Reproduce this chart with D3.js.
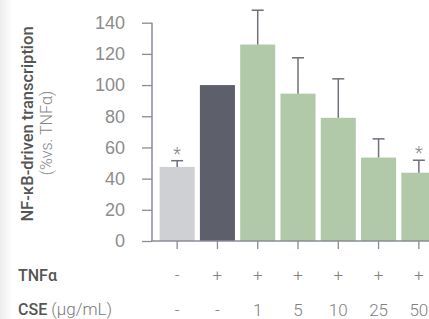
<!DOCTYPE html>
<html>
<head>
<meta charset="utf-8">
<script src="https://cdn.jsdelivr.net/npm/d3@7"></script>
<style>
  body { margin: 0; background: #fff; }
  svg { display: block; font-family: Roboto, sans-serif; }
</style>
</head>
<body>
<svg></svg>
<script>
var width = 429,
    height = 319;

// data
var groups = ["ctrl", "tnf", "c1", "c5", "c10", "c25", "c50"];
var means = [47.5, 100, 126, 94.5, 79, 53.5, 43.8];
var errors = [4, 0, 22, 23, 25, 12, 8];
var stars = [true, false, false, false, false, false, true];
var tnfRow = ["-", "+", "+", "+", "+", "+", "+"];
var cseRow = ["-", "-", "1", "5", "10", "25", "50"];
var yTicks = [0, 20, 40, 60, 80, 100, 120, 140];
var colors = ["#cfd0d4", "#5d5f6b", "#b1c8a9", "#b1c8a9", "#b1c8a9", "#b1c8a9", "#b1c8a9"];

var svg = d3.select("svg")
    .attr("width", width)
    .attr("height", height);

// faint shade on the left edge
var grad = svg.append("defs").append("linearGradient")
    .attr("id", "edge");
grad.append("stop").attr("offset", "0%").attr("stop-color", "#ececec");
grad.append("stop").attr("offset", "100%").attr("stop-color", "#ffffff");
svg.append("rect")
    .attr("width", 12).attr("height", height)
    .attr("fill", "url(#edge)");

var x = d3.scaleBand()
    .domain(groups)
    .range([157, 439])
    .paddingInner(0.13)
    .paddingOuter(0.065);

var y = d3.scaleLinear()
    .domain([0, 140])
    .range([241, 22.7]);

var axisColor = "#8a8c96";

// y axis
var yAxis = svg.append("g")
    .attr("transform", "translate(152,0)")
    .call(d3.axisLeft(y).tickValues(yTicks).tickSize(10).tickPadding(17));
yAxis.select(".domain").attr("stroke", axisColor).attr("stroke-width", 1.5)
    .attr("d", "M0," + y(140) + "V" + y(0));
yAxis.selectAll(".tick line").attr("stroke", axisColor).attr("stroke-width", 1.3);
yAxis.selectAll(".tick text")
    .attr("fill", "#8c8c8c")
    .attr("font-size", 18)
    .attr("font-weight", 300);

// bars
svg.selectAll(".bar")
    .data(groups)
    .enter().append("rect")
    .attr("class", "bar")
    .attr("x", d => x(d))
    .attr("width", x.bandwidth())
    .attr("y", (d, i) => y(means[i]))
    .attr("height", (d, i) => y(0) - y(means[i]))
    .attr("fill", (d, i) => colors[i]);

// error bars
var errColor = "#6e707a";
groups.forEach((g, i) => {
    if (!errors[i]) return;
    var cx = x(g) + x.bandwidth() / 2,
        top = y(means[i] + errors[i]);
    svg.append("line")
        .attr("x1", cx).attr("x2", cx)
        .attr("y1", y(means[i])).attr("y2", top)
        .attr("stroke", errColor).attr("stroke-width", 1.5);
    svg.append("line")
        .attr("x1", cx - 6).attr("x2", cx + 6)
        .attr("y1", top).attr("y2", top)
        .attr("stroke", errColor).attr("stroke-width", 1.5);
    if (stars[i]) {
        svg.append("text")
            .attr("x", cx).attr("y", top - 1)
            .attr("text-anchor", "middle")
            .attr("fill", "#888")
            .attr("font-size", 18)
            .attr("font-weight", 300)
            .text("*");
    }
});

// x axis
var xAxis = svg.append("g")
    .attr("transform", "translate(0," + y(0) + ")")
    .call(d3.axisBottom(x).tickSize(8).tickFormat(""));
xAxis.select(".domain").attr("stroke", axisColor).attr("stroke-width", 1.5)
    .attr("d", "M151,0H" + width);
xAxis.selectAll(".tick line").attr("stroke", axisColor).attr("stroke-width", 1.3);

// condition rows
function row(values, yPos) {
    svg.selectAll(null)
        .data(values)
        .enter().append("text")
        .attr("x", (d, i) => x(groups[i]) + x.bandwidth() / 2)
        .attr("y", yPos)
        .attr("text-anchor", "middle")
        .attr("fill", "#808080")
        .attr("font-size", 17)
        .attr("font-weight", 300)
        .text(d => d);
}
row(tnfRow, 281);
row(cseRow, 316);

svg.append("text")
    .attr("x", 18).attr("y", 281)
    .attr("fill", "#555")
    .attr("font-size", 16)
    .attr("font-weight", 500)
    .text("TNFα");

var cse = svg.append("text")
    .attr("x", 18).attr("y", 315)
    .attr("fill", "#555")
    .attr("font-size", 16);
cse.append("tspan").attr("font-weight", 500).text("CSE");
cse.append("tspan").attr("font-weight", 300).attr("fill", "#7a7a7a").attr("font-size", 17).text(" (μg/mL)");

// y title
svg.append("text")
    .attr("transform", "translate(33,124) rotate(-90)")
    .attr("text-anchor", "middle")
    .attr("fill", "#555")
    .attr("font-size", 16.5)
    .attr("font-weight", 500)
    .text("NF-κB-driven transcription");

svg.append("text")
    .attr("transform", "translate(52,133) rotate(-90)")
    .attr("text-anchor", "middle")
    .attr("fill", "#888")
    .attr("font-size", 16)
    .attr("font-weight", 300)
    .text("(%vs. TNFα)");
</script>
</body>
</html>
